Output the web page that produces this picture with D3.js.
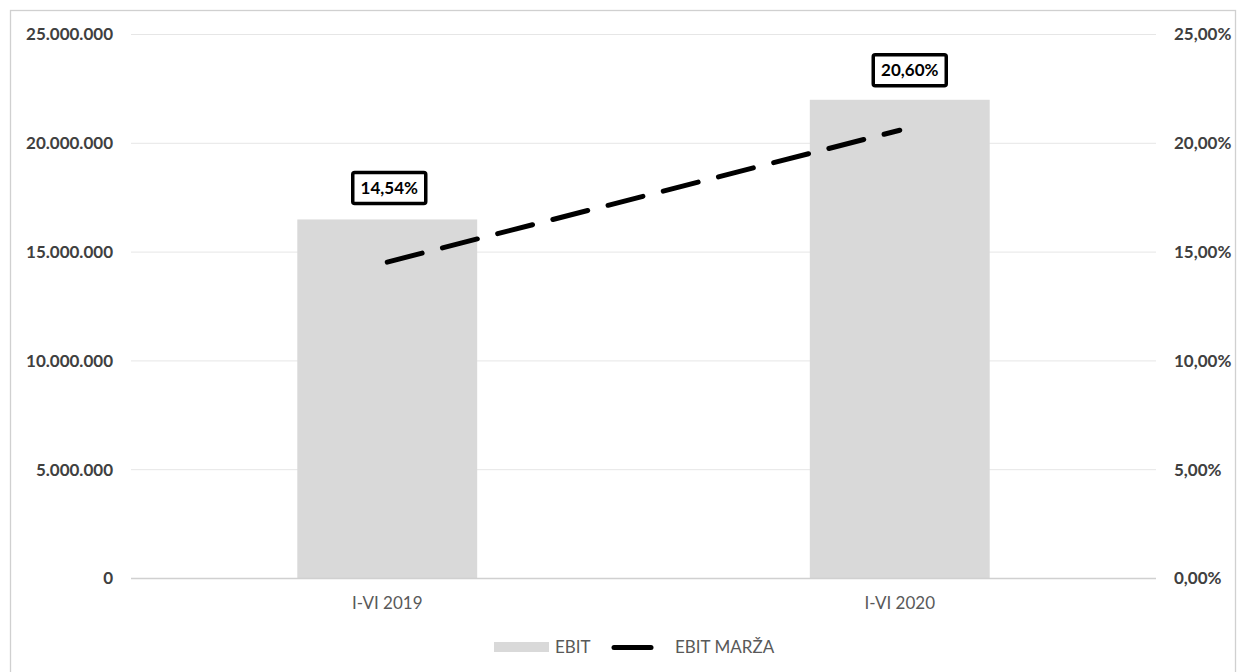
<!DOCTYPE html>
<html>
<head>
<meta charset="utf-8">
<script src="https://cdn.jsdelivr.net/npm/d3@7"></script>
<style>
  html, body { margin: 0; padding: 0; background: #fff; }
  svg { display: block; }
  text { font-family: Lato, "Open Sans", sans-serif; }
</style>
</head>
<body>
<svg id="chart" width="1246" height="672"></svg>
<script>
// ---- data ----
const categories = ["I-VI 2019", "I-VI 2020"];
const ebit = [16500000, 22000000];
const ebitMarza = [0.1454, 0.2060];
const leftTicks = [0, 5000000, 10000000, 15000000, 20000000, 25000000];
const rightTicks = [0, 0.05, 0.10, 0.15, 0.20, 0.25];
const seriesNames = ["EBIT", "EBIT MARŽA"];

// ---- layout / style ----
const W = 1246, H = 672;
const plot = { left: 131, right: 1156, top: 34.5, bottom: 578.5 };
const labelOffsets = [[2, -74], [10, -60]];
const barColor = "#d9d9d9";
const textColor = "#595959";
const boldColor = "#404040";

const loc = d3.formatLocale({ decimal: ",", thousands: ".", grouping: [3], currency: ["", "€"] });
const fmtLeft = loc.format(",.0f");
const fmtRight = loc.format(".2%");

const svg = d3.select("#chart");

// outer border
svg.append("rect")
  .attr("x", 10.5).attr("y", 10.5)
  .attr("width", 1225).attr("height", 675)
  .attr("fill", "#fff").attr("stroke", "#d0d0d0").attr("stroke-width", 1.3);

const x = d3.scaleBand().domain(categories).range([plot.left, plot.right]).padding(0);
const yL = d3.scaleLinear().domain([0, 25000000]).range([plot.bottom, plot.top]);
const yR = d3.scaleLinear().domain([0, 0.25]).range([plot.bottom, plot.top]);

// gridlines
svg.append("g").selectAll("line")
  .data(leftTicks.filter(d => d > 0))
  .join("line")
  .attr("x1", plot.left).attr("x2", plot.right)
  .attr("y1", d => yL(d)).attr("y2", d => yL(d))
  .attr("stroke", "#e6e6e6").attr("stroke-width", 1);

// bars
const barW = x.step() * 0.351;
svg.append("g").selectAll("rect")
  .data(categories.map((c, i) => ({ c, v: ebit[i] })))
  .join("rect")
  .attr("x", d => x(d.c) + x.bandwidth() / 2 - barW / 2)
  .attr("width", barW)
  .attr("y", d => yL(d.v))
  .attr("height", d => yL(0) - yL(d.v))
  .attr("fill", barColor);

// zero axis line
svg.append("line")
  .attr("x1", plot.left).attr("x2", plot.right)
  .attr("y1", yL(0)).attr("y2", yL(0))
  .attr("stroke", "#d0d0d0").attr("stroke-width", 1.5);

// left axis
const gL = svg.append("g").attr("transform", `translate(${plot.left},0)`)
  .call(d3.axisLeft(yL).tickValues(leftTicks).tickFormat(fmtLeft).tickSize(0).tickPadding(18));
gL.select(".domain").remove();
gL.selectAll("text").attr("font-family", "Lato, sans-serif").attr("font-size", 17)
  .attr("font-weight", "bold").attr("fill", boldColor);

// right axis
const gR = svg.append("g").attr("transform", `translate(${plot.right},0)`)
  .call(d3.axisRight(yR).tickValues(rightTicks).tickFormat(fmtRight).tickSize(0).tickPadding(18));
gR.select(".domain").remove();
gR.selectAll("text").attr("font-family", "Lato, sans-serif").attr("font-size", 17)
  .attr("font-weight", "bold").attr("fill", boldColor);

// bottom axis
const gB = svg.append("g").attr("transform", `translate(0,${plot.bottom})`)
  .call(d3.axisBottom(x).tickSize(0).tickPadding(18));
gB.select(".domain").remove();
gB.selectAll("text").attr("font-family", "Lato, sans-serif").attr("font-size", 17)
  .attr("fill", textColor);

// line series
const pts = categories.map((c, i) => [x(c) + x.bandwidth() / 2, yR(ebitMarza[i])]);
svg.append("path")
  .attr("d", d3.line()(pts))
  .attr("fill", "none").attr("stroke", "#000").attr("stroke-width", 5)
  .attr("stroke-linecap", "round").attr("stroke-dasharray", "36,21");

// data labels
const lab = svg.append("g").selectAll("g")
  .data(pts.map((p, i) => ({ p, v: ebitMarza[i], o: labelOffsets[i] })))
  .join("g")
  .attr("transform", d => `translate(${d.p[0] + d.o[0]},${d.p[1] + d.o[1]})`);
lab.append("rect")
  .attr("x", -36.5).attr("y", -15.5).attr("width", 73).attr("height", 31)
  .attr("rx", 2).attr("fill", "#fff").attr("stroke", "#000").attr("stroke-width", 3.5);
lab.append("text")
  .attr("text-anchor", "middle").attr("dy", "0.36em")
  .attr("font-size", 17).attr("font-weight", "bold").attr("fill", "#000")
  .text(d => fmtRight(d.v));

// legend
const lg = svg.append("g");
lg.append("rect").attr("x", 494).attr("y", 642).attr("width", 55).attr("height", 10).attr("fill", barColor);
lg.append("text").attr("x", 555).attr("y", 653).attr("font-size", 17).attr("fill", textColor).text(seriesNames[0]);
lg.append("line").attr("x1", 614).attr("x2", 651).attr("y1", 647.5).attr("y2", 647.5)
  .attr("stroke", "#000").attr("stroke-width", 5).attr("stroke-linecap", "round");
lg.append("text").attr("x", 675).attr("y", 653).attr("font-size", 17).attr("fill", textColor).text(seriesNames[1]);
</script>
</body>
</html>
